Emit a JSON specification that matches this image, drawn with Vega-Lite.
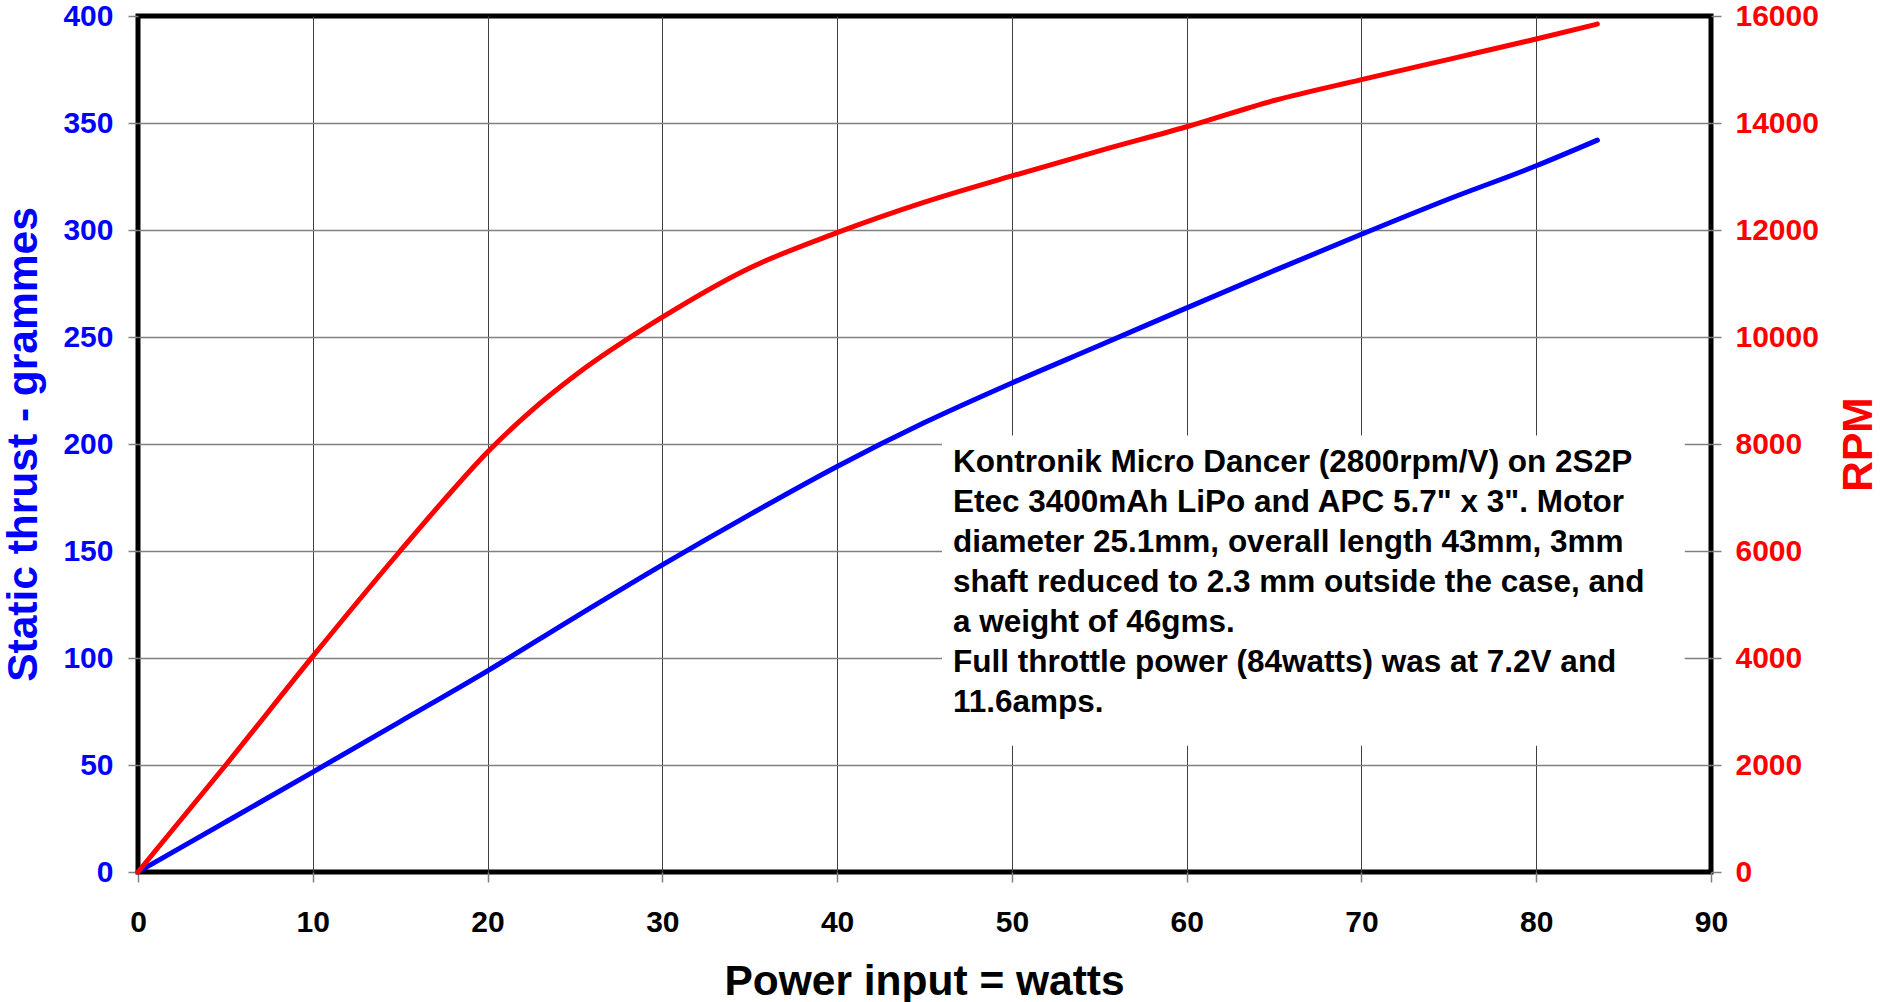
{
  "$schema": "https://vega.github.io/schema/vega-lite/v6.json",
  "width": 1573,
  "height": 856,
  "autosize": "none",
  "padding": {"left": 138, "top": 16, "right": 170, "bottom": 130},
  "background": "white",
  "config": {
    "view": {"stroke": "black", "strokeWidth": 5},
    "font": "Liberation Sans",
    "axis": {
      "labelFont": "Liberation Sans",
      "labelFontWeight": "bold",
      "labelFontSize": 30,
      "labelFlush": false,
      "labelOverlap": false,
      "labelBound": false,
      "titleFont": "Liberation Sans",
      "titleFontWeight": "bold",
      "titleFontSize": 42.5,
      "tickSize": 10,
      "tickColor": "#808080",
      "tickWidth": 1.5,
      "domain": false
    }
  },
  "datasets": {
    "thrust": [
      {"power": 0, "thrust": 0},
      {"power": 5, "thrust": 23.3},
      {"power": 10, "thrust": 46.7},
      {"power": 15, "thrust": 70.3},
      {"power": 20, "thrust": 94},
      {"power": 25, "thrust": 119},
      {"power": 30, "thrust": 143.5},
      {"power": 35, "thrust": 167},
      {"power": 40, "thrust": 189.5},
      {"power": 45, "thrust": 210},
      {"power": 50, "thrust": 228.5},
      {"power": 55, "thrust": 246},
      {"power": 60, "thrust": 263.6},
      {"power": 65, "thrust": 281},
      {"power": 70, "thrust": 298},
      {"power": 75, "thrust": 314.5},
      {"power": 80, "thrust": 330},
      {"power": 83.5, "thrust": 342}
    ],
    "rpm": [
      {"power": 0, "rpm": 0},
      {"power": 5, "rpm": 1990},
      {"power": 10, "rpm": 4030},
      {"power": 15, "rpm": 6000},
      {"power": 17.5, "rpm": 6950},
      {"power": 20, "rpm": 7850},
      {"power": 22.5, "rpm": 8620},
      {"power": 25, "rpm": 9280},
      {"power": 30, "rpm": 10370},
      {"power": 35, "rpm": 11290},
      {"power": 40, "rpm": 11950},
      {"power": 45, "rpm": 12520},
      {"power": 50, "rpm": 13010},
      {"power": 55, "rpm": 13480},
      {"power": 60, "rpm": 13930},
      {"power": 65, "rpm": 14420},
      {"power": 70, "rpm": 14810},
      {"power": 75, "rpm": 15190},
      {"power": 80, "rpm": 15570},
      {"power": 83.5, "rpm": 15850}
    ],
    "note": [
      {"note": "Kontronik Micro Dancer (2800rpm/V) on 2S2P\nEtec 3400mAh LiPo and APC 5.7\" x 3\". Motor\ndiameter 25.1mm, overall length 43mm, 3mm\nshaft reduced to 2.3 mm outside the case, and\na weight of 46gms.\nFull throttle power (84watts) was at 7.2V and\n11.6amps."}
    ]
  },
  "layer": [
    {
      "data": {"name": "thrust"},
      "mark": {"type": "line", "color": "#0000FF", "strokeWidth": 5, "strokeCap": "round", "strokeJoin": "round", "interpolate": "monotone"},
      "encoding": {
        "x": {
          "field": "power", "type": "quantitative",
          "scale": {"domain": [0, 90], "nice": false},
          "axis": {
            "values": [0, 10, 20, 30, 40, 50, 60, 70, 80, 90],
            "format": "d",
            "labelColor": "black",
            "labelPadding": 25,
            "labelBaseline": "top",
            "grid": true,
            "gridColor": "#404040",
            "gridWidth": 1,
            "gridOpacity": {"condition": {"test": "datum.value === 0 || datum.value === 90", "value": 0}, "value": 1},
            "title": "Power input = watts",
            "titleColor": "black",
            "titleX": 786,
            "titleY": 122,
            "titleAlign": "center",
            "titleBaseline": "alphabetic"
          }
        },
        "y": {
          "field": "thrust", "type": "quantitative",
          "scale": {"domain": [0, 400], "nice": false},
          "axis": {
            "orient": "left",
            "values": [0, 50, 100, 150, 200, 250, 300, 350, 400],
            "format": "d",
            "labelColor": "#0000FF",
            "labelPadding": 15,
            "grid": true,
            "gridColor": "#808080",
            "gridWidth": 1.5,
            "gridOpacity": {"condition": {"test": "datum.value === 0 || datum.value === 400", "value": 0}, "value": 1},
            "title": "Static thrust - grammes",
            "titleColor": "#0000FF",
            "titleAngle": -90,
            "titleX": -102,
            "titleY": 428,
            "titleAlign": "center",
            "titleBaseline": "alphabetic"
          }
        }
      }
    },
    {
      "data": {"name": "note"},
      "mark": {"type": "rect", "fill": "white"},
      "encoding": {
        "x": {"datum": 46, "type": "quantitative", "scale": {"domain": [0, 90], "nice": false}},
        "x2": {"datum": 88.5},
        "y": {"datum": 59, "type": "quantitative", "scale": {"domain": [0, 400], "nice": false}, "axis": null},
        "y2": {"datum": 204}
      }
    },
    {
      "data": {"name": "note"},
      "mark": {"type": "text", "align": "left", "baseline": "top", "lineBreak": "\n", "lineHeight": 40, "fontSize": 31.5, "fontWeight": "bold", "font": "Liberation Sans", "color": "black"},
      "encoding": {
        "x": {"datum": 46.63, "type": "quantitative", "scale": {"domain": [0, 90], "nice": false}},
        "y": {"datum": 198.5, "type": "quantitative", "scale": {"domain": [0, 400], "nice": false}, "axis": null},
        "text": {"field": "note"}
      }
    },
    {
      "data": {"name": "rpm"},
      "mark": {"type": "line", "color": "#FF0000", "strokeWidth": 5, "strokeCap": "round", "strokeJoin": "round", "interpolate": "monotone"},
      "encoding": {
        "x": {"field": "power", "type": "quantitative", "scale": {"domain": [0, 90], "nice": false}},
        "y": {
          "field": "rpm", "type": "quantitative",
          "scale": {"domain": [0, 16000], "nice": false},
          "axis": {
            "orient": "right",
            "values": [0, 2000, 4000, 6000, 8000, 10000, 12000, 14000, 16000],
            "format": "d",
            "labelColor": "#FF0000",
            "labelPadding": 14,
            "grid": false,
            "title": "RPM",
            "titleColor": "#FF0000",
            "titleAngle": -90,
            "titleX": 160,
            "titleY": 428,
            "titleAlign": "center",
            "titleBaseline": "alphabetic"
          }
        }
      }
    }
  ],
  "resolve": {"scale": {"y": "independent"}, "axis": {"y": "independent"}}
}
